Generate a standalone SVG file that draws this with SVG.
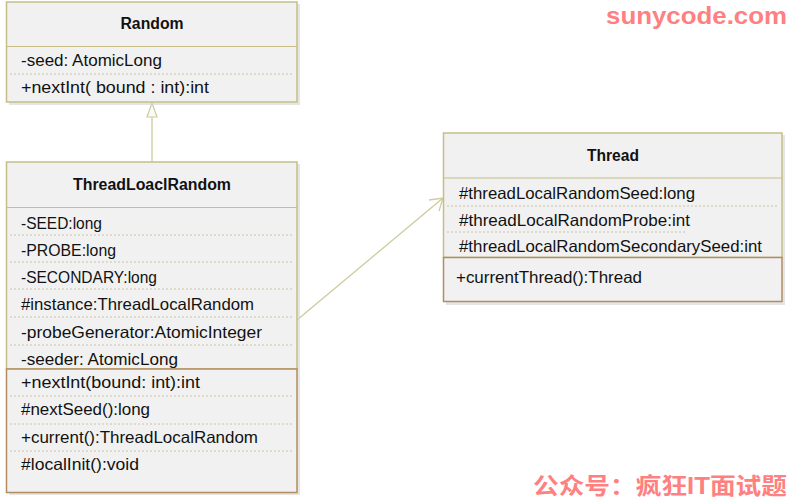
<svg xmlns="http://www.w3.org/2000/svg" width="788" height="501" viewBox="0 0 788 501">
<defs>
<style>
.box{fill:#f1f1f1;stroke:#c6be86;stroke-width:1.5}
.ops{fill:#f1f1f1;stroke:#b38c62;stroke-width:1.5}
.shadow{fill:#d4d4d4;opacity:0.6}
.sep{stroke:#c6be86;stroke-width:1.2}
.dot{stroke:#c9c4a4;stroke-width:1;stroke-dasharray:2 2}
.t{font-family:"Liberation Sans",Arial,sans-serif;font-size:16.5px;fill:#111}
.h{font-family:"Liberation Sans",Arial,sans-serif;font-size:16px;font-weight:bold;fill:#111;text-anchor:middle}
.conn{stroke:#cdcc9e;stroke-width:1.3;fill:none}
.wm{font-family:"Liberation Sans","Noto Sans CJK SC",sans-serif;font-weight:bold;fill:#ff8080}
</style>
</defs>
<rect width="788" height="501" fill="#ffffff"/>

<g id="connectors">
<line class="conn" x1="152" y1="116" x2="152" y2="162"/>
<polygon points="152,103 147,117 157,117" fill="#fafafa" stroke="#cdcc9e" stroke-width="1.2"/>
<line class="conn" x1="297" y1="320" x2="443" y2="198"/>
<polyline class="conn" points="429,200 443,198 439,211"/>
</g>

<g id="node-random">
<rect class="shadow" x="9" y="4" width="291" height="101"/>
<rect class="box" x="6.5" y="2" width="290.5" height="100"/>
<line class="sep" x1="6.5" y1="46.5" x2="297" y2="46.5"/>
<line class="dot" x1="10" y1="74" x2="293" y2="74"/>
<text class="h" x="152" y="29" textLength="63" lengthAdjust="spacingAndGlyphs">Random</text>
<text class="t" x="21" y="66" textLength="141" lengthAdjust="spacingAndGlyphs">-seed: AtomicLong</text>
<text class="t" x="21" y="93" textLength="188" lengthAdjust="spacingAndGlyphs">+nextInt( bound : int):int</text>
</g>

<g id="node-threadlocalrandom">
<rect class="shadow" x="9" y="164" width="291" height="331"/>
<rect class="box" x="6.5" y="162" width="290.5" height="207"/>
<line class="sep" x1="6.5" y1="207.5" x2="297" y2="207.5"/>
<line class="dot" x1="10" y1="235" x2="293" y2="235"/>
<line class="dot" x1="10" y1="262" x2="293" y2="262"/>
<line class="dot" x1="10" y1="289" x2="293" y2="289"/>
<line class="dot" x1="10" y1="317" x2="293" y2="317"/>
<line class="dot" x1="10" y1="345" x2="293" y2="345"/>
<rect class="ops" x="6.5" y="369" width="290.5" height="123.5"/>
<line class="dot" x1="10" y1="396" x2="293" y2="396"/>
<line class="dot" x1="10" y1="424" x2="293" y2="424"/>
<line class="dot" x1="10" y1="451" x2="293" y2="451"/>
<text class="h" x="152" y="190" textLength="158" lengthAdjust="spacingAndGlyphs">ThreadLoaclRandom</text>
<text class="t" x="21" y="229" textLength="81" lengthAdjust="spacingAndGlyphs">-SEED:long</text>
<text class="t" x="21" y="255.5" textLength="95" lengthAdjust="spacingAndGlyphs">-PROBE:long</text>
<text class="t" x="21" y="282.5" textLength="136" lengthAdjust="spacingAndGlyphs">-SECONDARY:long</text>
<text class="t" x="21" y="310" textLength="233" lengthAdjust="spacingAndGlyphs">#instance:ThreadLocalRandom</text>
<text class="t" x="21" y="337.5" textLength="241" lengthAdjust="spacingAndGlyphs">-probeGenerator:AtomicInteger</text>
<text class="t" x="21" y="365" textLength="157" lengthAdjust="spacingAndGlyphs">-seeder: AtomicLong</text>
<text class="t" x="21" y="387.5" textLength="179" lengthAdjust="spacingAndGlyphs">+nextInt(bound: int):int</text>
<text class="t" x="21" y="415" textLength="129" lengthAdjust="spacingAndGlyphs">#nextSeed():long</text>
<text class="t" x="21" y="443" textLength="237" lengthAdjust="spacingAndGlyphs">+current():ThreadLocalRandom</text>
<text class="t" x="21" y="470" textLength="118" lengthAdjust="spacingAndGlyphs">#localInit():void</text>
</g>

<g id="node-thread">
<rect class="shadow" x="446" y="135" width="339" height="170"/>
<rect class="box" x="443.5" y="133" width="338.5" height="124.5"/>
<line class="sep" x1="443.5" y1="178" x2="782" y2="178"/>
<line class="dot" x1="447" y1="206" x2="778" y2="206"/>
<line class="dot" x1="447" y1="232" x2="685" y2="232"/>
<rect class="ops" x="443.5" y="257.5" width="338.5" height="44"/>
<text class="h" x="613" y="161" textLength="52" lengthAdjust="spacingAndGlyphs">Thread</text>
<text class="t" x="459" y="199" textLength="236" lengthAdjust="spacingAndGlyphs">#threadLocalRandomSeed:long</text>
<text class="t" x="459" y="225.5" textLength="231" lengthAdjust="spacingAndGlyphs">#threadLocalRandomProbe:int</text>
<text class="t" x="459" y="251.5" textLength="303" lengthAdjust="spacingAndGlyphs">#threadLocalRandomSecondarySeed:int</text>
<text class="t" x="456" y="283" textLength="186" lengthAdjust="spacingAndGlyphs">+currentThread():Thread</text>
</g>

<text class="wm" x="606" y="24" font-size="24" textLength="181" lengthAdjust="spacingAndGlyphs">sunycode.com</text>
<text class="wm" x="533" y="494" font-size="23" textLength="254" lengthAdjust="spacingAndGlyphs">公众号：疯狂IT面试题</text>
</svg>
